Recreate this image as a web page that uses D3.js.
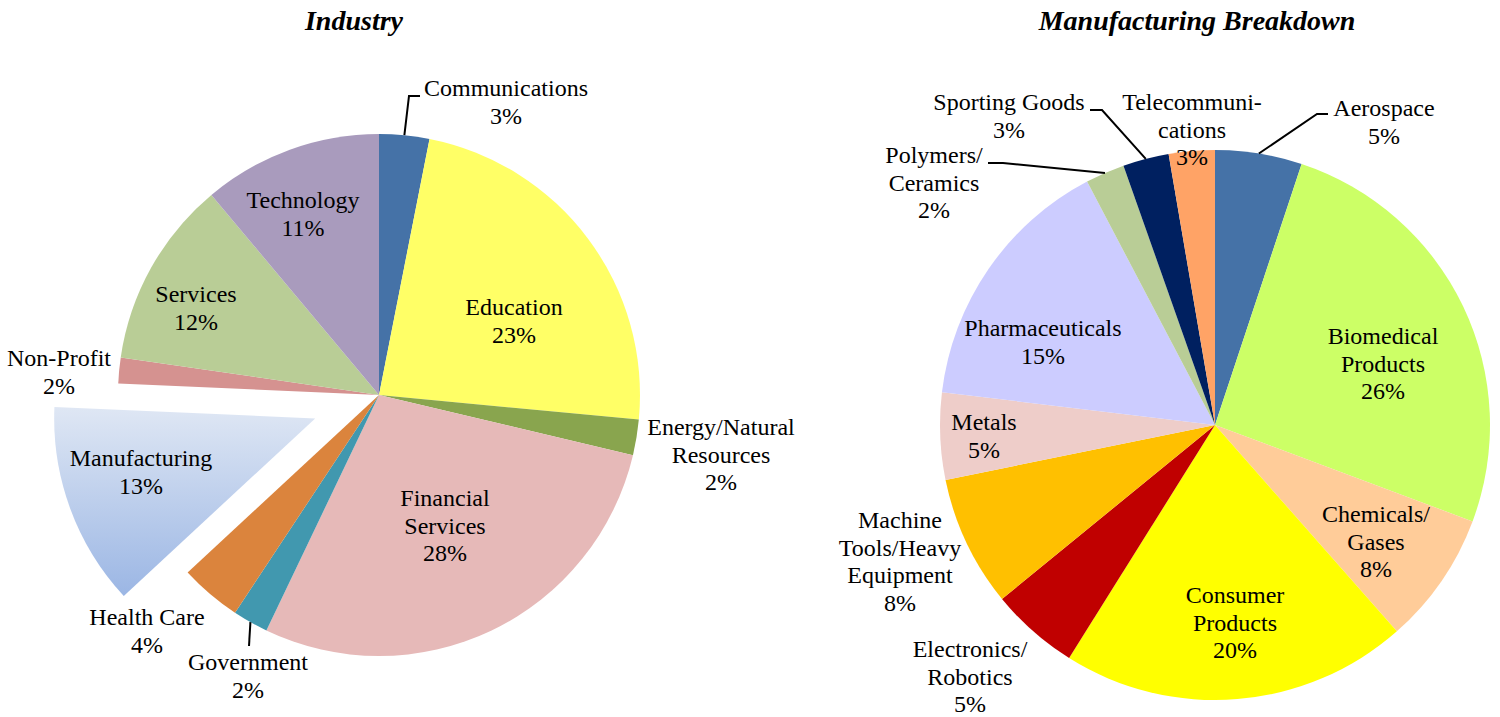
<!DOCTYPE html>
<html>
<head>
<meta charset="utf-8">
<script src="https://cdn.jsdelivr.net/npm/d3@7"></script>
<style>
  html, body { margin: 0; padding: 0; background: #fff; }
  svg { display: block; }
  text { font-family: "Liberation Serif", "Times New Roman", serif; fill: #000; }
</style>
</head>
<body>
<svg id="chart" width="1500" height="717"></svg>
<script>
// ---------- DATA ----------
const industryCategories = ["Communications", "Education", "Energy/Natural Resources", "Financial Services",
  "Government", "Health Care", "Manufacturing", "Non-Profit", "Services", "Technology"];
const industryValues = [3.1, 23.4, 2.2, 28.4, 2.2, 3.8, 12.6, 1.6, 11.6, 11.1];
const industryLabelLines = [["Communications"], ["Education"], ["Energy/Natural", "Resources"], ["Financial", "Services"],
  ["Government"], ["Health Care"], ["Manufacturing"], ["Non-Profit"], ["Services"], ["Technology"]];
const industryColors = ["#4572A7", "#FFFF66", "#89A54E", "#E6B9B8", "#4198AF", "#DB843D", "url(#mfgGrad)",
  "#D59290", "#B9CD96", "#A99BBD"];

const mfgCategories = ["Aerospace", "Biomedical Products", "Chemicals/Gases", "Consumer Products",
  "Electronics/Robotics", "Machine Tools/Heavy Equipment", "Metals", "Pharmaceuticals",
  "Polymers/Ceramics", "Sporting Goods", "Telecommunications"];
const mfgValues = [5.1, 25.6, 7.8, 20.4, 5.2, 7.7, 5.1, 15.4, 2.3, 2.7, 2.7];
const mfgLabelLines = [["Aerospace"], ["Biomedical", "Products"], ["Chemicals/", "Gases"], ["Consumer", "Products"],
  ["Electronics/", "Robotics"], ["Machine", "Tools/Heavy", "Equipment"], ["Metals"], ["Pharmaceuticals"],
  ["Polymers/", "Ceramics"], ["Sporting Goods"], ["Telecommuni-", "cations"]];
const mfgColors = ["#4572A7", "#CCFF66", "#FFCC99", "#FFFF00", "#C00000", "#FFC000", "#EECDC9", "#CCCCFF",
  "#B9CD96", "#002060", "#FFA366"];

// ---------- LAYOUT ----------
const lineGap = 27.6;
// label anchor: [center x, first baseline]
const industryLabelPos = [[506, 96], [514, 315], [721, 435], [445, 506], [248, 670], [147, 625],
  [141, 466], [59, 366], [196, 302], [303, 208]];
// leader elbows (after slice edge point): null = no leader
const industryLeaders = [[[409, 96], [420, 96]], null, null, null, [[249, 646]], null, null, null, null, null];

const mfgLabelPos = [[1384, 116], [1383, 344], [1376, 522], [1235, 603], [970, 657], [900, 528],
  [984, 430], [1043, 336], [934, 163], [1009, 110], [1192, 110]];
const mfgLeaders = [[[1317, 114], [1328, 114]], null, null, null, null, null, null, null,
  [[1003, 163], [988, 163]], [[1102, 110], [1090, 110]], null];

const svg = d3.select("#chart");
const defs = svg.append("defs");
const grad = defs.append("linearGradient").attr("id", "mfgGrad")
  .attr("x1", 0).attr("y1", 0).attr("x2", 0).attr("y2", 1);
grad.append("stop").attr("offset", "0%").attr("stop-color", "#DFE7F4");
grad.append("stop").attr("offset", "100%").attr("stop-color", "#9BB6E4");

function drawPie(opts) {
  const { cx, cy, r, values, colors, labelLines, labelPos, leaders, explode, title, titleX } = opts;
  const total = d3.sum(values);
  const pie = d3.pie().sort(null).value(d => d).startAngle(0).endAngle(2 * Math.PI);
  const arcs = pie(values);
  const arc = d3.arc().innerRadius(0).outerRadius(r);
  const edge = d3.arc().innerRadius(r).outerRadius(r);
  const g = svg.append("g").attr("transform", `translate(${cx},${cy})`);

  g.selectAll("path.slice").data(arcs).enter().append("path")
    .attr("class", "slice")
    .attr("d", arc)
    .attr("fill", (d, i) => colors[i])
    .attr("transform", (d, i) => {
      const off = explode[i] || 0;
      if (!off) return null;
      const a = (d.startAngle + d.endAngle) / 2;
      return `translate(${Math.sin(a) * off},${-Math.cos(a) * off})`;
    });

  // leaders
  arcs.forEach((d, i) => {
    if (!leaders[i]) return;
    const p = edge.centroid(d);
    const pts = [[p[0] + cx, p[1] + cy]].concat(leaders[i]);
    svg.append("path")
      .attr("d", d3.line()(pts))
      .attr("fill", "none").attr("stroke", "#000").attr("stroke-width", 2);
  });

  // labels
  arcs.forEach((d, i) => {
    const lines = labelLines[i].concat([Math.round(values[i] / total * 100) + "%"]);
    const t = svg.append("text").attr("text-anchor", "middle").attr("font-size", 24);
    lines.forEach((s, k) => {
      t.append("tspan").attr("x", labelPos[i][0]).attr("y", labelPos[i][1] + k * lineGap).text(s);
    });
  });

  svg.append("text").attr("x", titleX).attr("y", 30).attr("text-anchor", "middle")
    .attr("font-size", 28).attr("font-weight", "bold").attr("font-style", "italic").text(title);
}

drawPie({
  cx: 379, cy: 395, r: 261, values: industryValues, colors: industryColors,
  labelLines: industryLabelLines, labelPos: industryLabelPos, leaders: industryLeaders,
  explode: [0, 0, 0, 0, 0, 0, 68, 0, 0, 0], title: "Industry", titleX: 354
});
drawPie({
  cx: 1215, cy: 425, r: 275, values: mfgValues, colors: mfgColors,
  labelLines: mfgLabelLines, labelPos: mfgLabelPos, leaders: mfgLeaders,
  explode: [], title: "Manufacturing Breakdown", titleX: 1197
});
</script>
</body>
</html>
